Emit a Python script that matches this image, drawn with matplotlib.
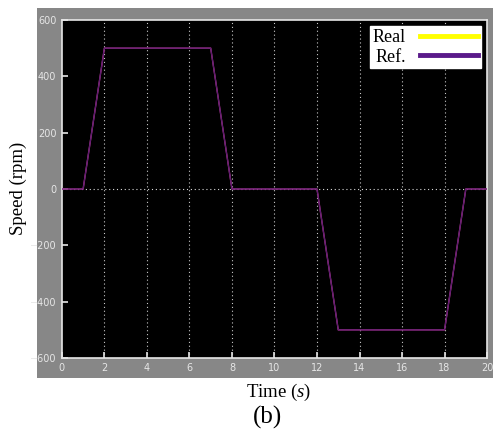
import numpy as np
import matplotlib.pyplot as plt
from matplotlib.lines import Line2D

plt.rcParams['mathtext.fontset'] = 'custom'
plt.rcParams['mathtext.rm'] = 'Liberation Serif'
plt.rcParams['mathtext.it'] = 'Liberation Serif:italic'

# trapezoid speed profile (s, rpm)
t = [0, 1, 2, 7, 8, 12, 13, 18, 19, 20]
ref = [0, 0, 500, 500, 0, 0, -500, -500, 0, 0]
real = [0, 0, 500, 500, 0, 0, -500, -500, 0, 0]

xticks = [0, 2, 4, 6, 8, 10, 12, 14, 16, 18, 20]
yticks = [-600, -400, -200, 0, 200, 400, 600]

fig = plt.figure(figsize=(4.95, 4.34), dpi=100)
fig.patch.set_facecolor('white')

# gray panel behind the plot
bg = fig.add_axes([0.075, 0.129, 0.921, 0.853])
bg.set_facecolor('#878787')
bg.set_xticks([])
bg.set_yticks([])
for s in bg.spines.values():
    s.set_visible(False)

ax = fig.add_axes([0.125, 0.175, 0.859, 0.779])
ax.set_facecolor('black')
ax.plot(t, real, color='#c0409a', lw=1.0, zorder=3)
ax.plot(t, ref, color='#5a1a6e', lw=0.8, zorder=4)

for x in xticks[1:-1]:
    ax.axvline(x, color='#c8c8c8', lw=0.8, ls=(0, (1, 2.5)), zorder=1)
ax.axhline(0, color='#d8d8d8', lw=0.8, ls=(0, (1, 2.5)), zorder=1)

ax.set_xlim(0, 20)
ax.set_ylim(-600, 600)
ax.set_xticks(xticks)
ax.set_yticks(yticks)
ax.tick_params(direction='in', colors='#e6e6e6', labelsize=7, length=4, width=1.2)
ax.tick_params(axis='y', pad=4)
for s in ax.spines.values():
    s.set_color('#e6e6e6')
    s.set_linewidth(1.2)

handles = [Line2D([], [], color='#ffff00', lw=3.5), Line2D([], [], color='#5a1a8a', lw=3.5)]
leg = ax.legend(handles, ['Real', 'Ref.'], loc='upper right', frameon=True, fancybox=False,
                markerfirst=False,
                prop={'family': 'Liberation Serif', 'size': 13}, handlelength=3.2,
                borderpad=0.15, labelspacing=0.15, handletextpad=0.8, borderaxespad=0.35)
leg.get_frame().set_facecolor('white')
leg.get_frame().set_edgecolor('white')
leg.get_frame().set_alpha(1)

fig.text(0.037, 0.565, 'Speed (rpm)', rotation=90, ha='center', va='center',
         family='Liberation Serif', fontsize=13.5)
fig.text(0.562, 0.095, r'Time ($s$)', ha='center', va='center',
         family='Liberation Serif', fontsize=13.5)
fig.text(0.54, 0.037, '(b)', ha='center', va='center',
         family='Liberation Serif', fontsize=18)

plt.savefig('out.png', dpi=100)
